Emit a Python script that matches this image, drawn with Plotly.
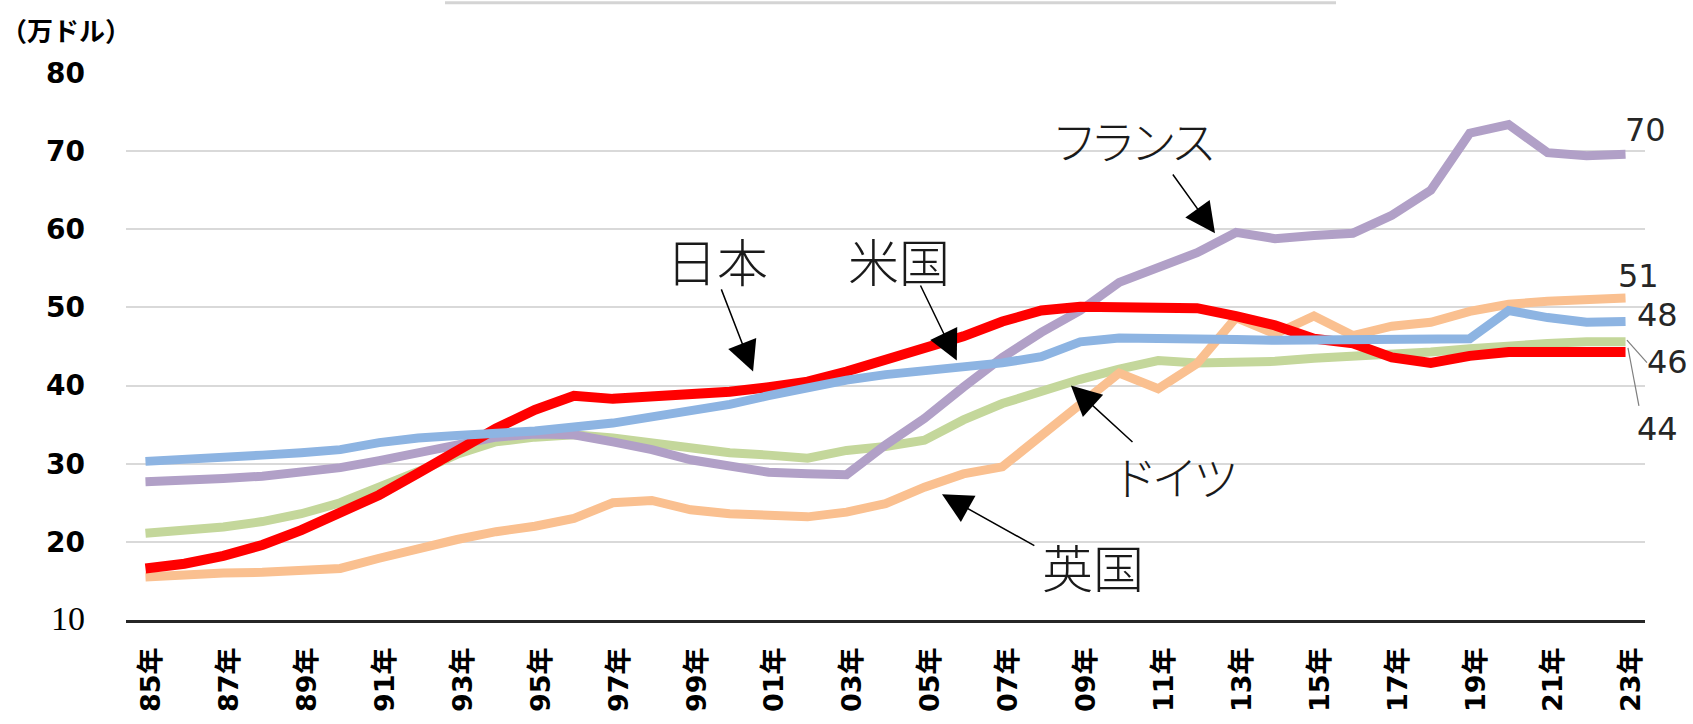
import plotly.graph_objects as go

# ---------------- data ----------------
years = [1985, 1986, 1987, 1988, 1989, 1990, 1991, 1992, 1993, 1994,
         1995, 1996, 1997, 1998, 1999, 2000, 2001, 2002, 2003, 2004,
         2005, 2006, 2007, 2008, 2009, 2010, 2011, 2012, 2013, 2014,
         2015, 2016, 2017, 2018, 2019, 2020, 2021, 2022, 2023]

tick_years = [1985, 1987, 1989, 1991, 1993, 1995, 1997, 1999, 2001, 2003,
              2005, 2007, 2009, 2011, 2013, 2015, 2017, 2019, 2021, 2023]
tick_labels = ["85年", "87年", "89年", "91年", "93年", "95年", "97年", "99年", "01年", "03年",
               "05年", "07年", "09年", "11年", "13年", "15年", "17年", "19年", "21年", "23年"]

y_ticks = [10, 20, 30, 40, 50, 60, 70, 80]
y_tick_labels = ["10", "20", "30", "40", "50", "60", "70", "80"]

japan = [16.6, 17.2, 18.2, 19.6, 21.5, 23.7, 26.0, 28.8, 31.6, 34.5,
         36.9, 38.7, 38.3, 38.5, 38.7, 39.2, 39.8, 40.5, 41.8, 43.2,
         44.6, 46.3, 48.2, 49.6, 50.1, 50.1, 49.9, 49.9, 48.9, 47.7,
         46.0, 45.4, 43.6, 42.9, 43.8, 44.3, 44.3, 44.3, 44.3]
us = [30.3, 30.5, 30.8, 31.1, 31.4, 31.8, 32.7, 33.3, 33.6, 33.8,
      34.2, 34.7, 35.2, 36.0, 36.7, 37.6, 38.7, 39.8, 40.7, 41.4,
      41.9, 42.3, 42.9, 43.7, 45.6, 46.1, 46.1, 46.0, 45.9, 45.8,
      45.8, 45.8, 45.8, 46.0, 46.0, 49.6, 48.7, 48.1, 48.2]
france = [27.7, 27.8, 28.1, 28.4, 28.85, 29.5, 30.4, 31.4, 32.6, 33.4,
          33.8, 33.7, 32.8, 31.8, 30.5, 29.6, 28.9, 28.7, 28.6, 32.4,
          35.8, 39.8, 43.6, 46.8, 49.6, 53.2, 55.2, 57.0, 59.6, 58.8,
          59.2, 59.5, 61.8, 65.0, 72.3, 73.4, 69.8, 69.4, 69.6]
germany = [21.1, 21.4, 21.9, 22.6, 23.6, 25.0, 26.9, 29.0, 31.2, 32.8,
           33.4, 33.7, 33.3, 32.7, 32.0, 31.4, 31.1, 30.7, 31.7, 32.2,
           33.0, 35.6, 37.7, 39.4, 40.8, 42.1, 43.2, 42.9, 42.9, 43.1,
           43.5, 43.7, 44.0, 44.3, 44.7, 45.1, 45.4, 45.6, 45.6]
uk = [15.5, 15.8, 16.0, 16.1, 16.4, 16.6, 17.9, 19.2, 20.3, 21.3,
      22.0, 23.0, 25.0, 25.3, 24.1, 23.6, 23.5, 23.2, 23.8, 24.9,
      27.0, 28.7, 29.6, 33.6, 37.6, 41.6, 39.6, 42.8, 48.7, 46.6,
      48.9, 46.4, 47.6, 48.1, 49.5, 50.4, 50.8, 51.0, 51.2]

series_names = ["ドイツ", "フランス", "英国", "日本", "米国"]
series_values = [germany, france, uk, japan, us]
series_colors = ["#C4D79B", "#B1A0C7", "#FAC090", "#FF0000", "#8DB4E2"]
series_widths = [9, 9, 9, 10, 9]

end_labels = ["70", "51", "48", "46", "44"]

# ---------------- figure ----------------
fig = go.Figure()
for name, vals, col, w in zip(series_names, series_values, series_colors, series_widths):
    fig.add_trace(go.Scatter(x=years, y=vals, mode="lines", name=name,
                             line=dict(color=col, width=w), hoverinfo="skip"))

CJK = "Noto Sans CJK JP"
NUM = "DejaVu Sans, Noto Sans CJK JP"

annotations = []
# series name labels (text) and arrows
name_labels = [
    ("日本", 1999.67, 56.1, False),
    ("米国", 2004.35, 56.1, False),
    ("フランス", 2010.4, 71.5, True),
    ("ドイツ", 2011.48, 28.6, True),
    ("英国", 2009.33, 16.9, False),
]
for txt, x, y, kana in name_labels:
    t = "<span style='font-feature-settings:\"palt\"'>" + txt + "</span>" if kana else txt
    annotations.append(dict(x=x, y=y, xref="x", yref="y", text=t, showarrow=False,
                            font=dict(family=CJK, size=46 if kana else 51, color="#1a1a1a", weight=300),
                            xanchor="center", yanchor="middle"))

arrows = [
    ((1999.77, 52.5), (2000.6, 41.8)),
    ((2004.88, 53.0), (2005.83, 43.2)),
    ((2011.35, 67.2), (2012.46, 59.5)),
    ((2010.38, 32.6), (2008.76, 40.0)),
    ((2007.86, 19.4), (2005.45, 26.1)),
]
for (tx, ty), (hx, hy) in arrows:
    annotations.append(dict(x=hx, y=hy, ax=tx, ay=ty, xref="x", yref="y",
                            axref="x", ayref="y", text="", showarrow=True,
                            arrowhead=2, arrowsize=4.0, arrowwidth=1.5,
                            arrowcolor="#000000", standoff=0, startstandoff=0))

# end value labels (paper coords, they sit right of the plot area)
end_pos = [(1.0, 0.896), (0.9954, 0.6284), (1.0079, 0.5583), (1.0151, 0.4722), (1.0079, 0.3483)]
for txt, (x, y) in zip(end_labels, end_pos):
    annotations.append(dict(x=x, y=y, xref="paper", yref="paper", text=txt, showarrow=False,
                            font=dict(family="DejaVu Sans", size=32, color="#262626"),
                            xanchor="center", yanchor="middle"))

# y-axis unit
annotations.append(dict(x=-0.0395, y=1.079, xref="paper", yref="paper", text="（万ドル）",
                        showarrow=False, font=dict(family=CJK, size=26, color="#000000", weight="bold"),
                        xanchor="center", yanchor="middle"))

shapes = [
    # leader lines for 46 and 44
    dict(type="line", xref="paper", yref="paper", x0=0.9881, y0=0.5117, x1=1.0013, y1=0.4704,
         line=dict(color="#7f7f7f", width=1.2)),
    dict(type="line", xref="paper", yref="paper", x0=0.9888, y0=0.4973, x1=0.9960, y1=0.3914,
         line=dict(color="#7f7f7f", width=1.2)),
    # faint top border fragment
    dict(type="line", xref="paper", yref="paper", x0=0.21, x1=0.7966, y0=1.1284, y1=1.1284,
         line=dict(color="#d4d4d4", width=3)),
]

ytext = [("<span style='font-family:Liberation Serif;font-weight:normal;font-size:34px'>" + t + "</span>")
         if t == "10" else t for t in y_tick_labels]

fig.update_layout(
    width=1693, height=724,
    margin=dict(l=126, r=48, t=73, b=94, pad=0),
    plot_bgcolor="white", paper_bgcolor="white",
    showlegend=False,
    annotations=annotations,
    shapes=shapes,
    xaxis=dict(range=[1984.5, 2023.5], tickmode="array", tickvals=tick_years, ticktext=tick_labels,
               tickangle=-90, tickfont=dict(family=NUM, size=27, color="#000000", weight="bold"),
               showgrid=False, zeroline=False, showline=True, linecolor="#262626", linewidth=2.5,
               ticks="", ticklabelstandoff=14, ticklabelshift=6, fixedrange=True),
    yaxis=dict(range=[10, 80], tickmode="array", tickvals=y_ticks, ticktext=ytext,
               tickfont=dict(family=NUM, size=28, color="#000000", weight="bold"),
               showgrid=True, gridcolor="#d9d9d9", gridwidth=2, zeroline=False, showline=False,
               ticks="", ticklabelstandoff=40, fixedrange=True),
)

fig.write_html("out.html", post_script="document.body.style.margin='0';",
               config={"displayModeBar": False})
